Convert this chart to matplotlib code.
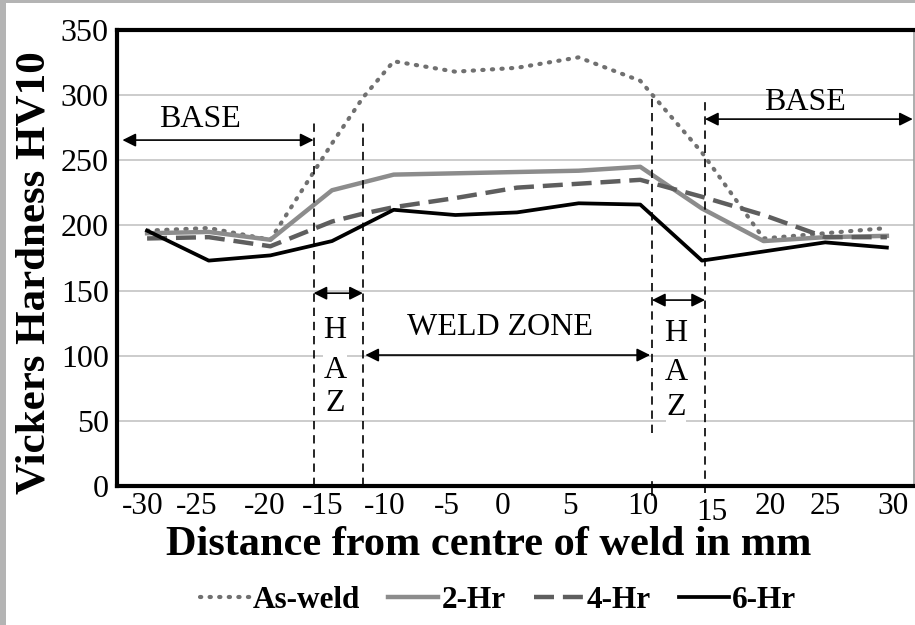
import matplotlib
matplotlib.use("Agg")
import matplotlib.pyplot as plt
from matplotlib.patches import Rectangle

# ---------------- data ----------------
distance = [-30, -25, -20, -15, -12.5, -10, -5, 0, 5, 10, 15, 20, 25, 30]
as_weld = [196, 198, 189, 263, 298, 326, 318, 321, 329, 311, 256, 190, 194, 198]
hr2 = [194, 195, 189, 227, 233, 239, 240, 241, 242, 245, 213, 188, 191, 192]
hr4 = [190, 191, 184, 203, 209, 214, 221, 229, 232, 235, 222, 208, 191, 191]
hr6 = [196, 173, 177, 188, 200, 212, 208, 210, 217, 216, 173, 180, 187, 183]

xtick_labels = ["-30", "-25", "-20", "-15", "-10", "-5", "0", "5", "10", "15", "20", "25", "30"]
ytick_values = [0, 50, 100, 150, 200, 250, 300, 350]

# layout: positions where the x tick labels were placed in the original
xtick_label_pos = [-30.33, -25.95, -20.44, -15.73, -10.71, -5.68, -1.14, 4.30, 10.22, 15.82, 20.52, 24.98, 30.49]

SERIF = ["Liberation Serif", "DejaVu Serif"]
plt.rcParams["font.family"] = SERIF

fig = plt.figure(figsize=(9.15, 6.25), dpi=100)
ax = fig.add_axes([117 / 915, 1 - 486 / 625, (914 - 117) / 915, (486 - 30) / 625])

ax.set_xlim(-32.44, 32.2)
ax.set_ylim(0, 350)

# grid
for v in ytick_values[1:]:
    ax.axhline(v, color="#c8c8c8", lw=1.3, zorder=0)

ax.plot(distance, as_weld, color="#707070", lw=3.0, linestyle=(0, (0.3, 2.0)),
        dash_capstyle="round", label="As-weld", zorder=3)
ax.plot(distance, hr2, color="#8c8c8c", lw=3.2, label="2-Hr", zorder=3)
ax.plot(distance, hr4, color="#5e5e5e", lw=3.2, linestyle=(0, (4.5, 2)), label="4-Hr", zorder=3)
ax.plot(distance, hr6, color="black", lw=2.7, label="6-Hr", zorder=4)

# spines
for s in ["left", "bottom", "top"]:
    ax.spines[s].set_linewidth(3)
    ax.spines[s].set_color("black")
ax.spines["right"].set_linewidth(1.2)
ax.spines["right"].set_color("#a0a0a0")

# y ticks
ax.set_yticks(ytick_values)
ax.set_yticklabels([str(v) for v in ytick_values])
ax.tick_params(axis="y", length=0, pad=6, labelsize=23)
ax.set_xticks([])
xt = ax.get_xaxis_transform()
for lab, pos in zip(xtick_labels, xtick_label_pos):
    yoff = -0.026 if lab == "15" else -0.014
    ax.text(pos, yoff, lab, transform=xt, ha="center", va="top", fontsize=22.5)

fig.text(35 / 915, 1 - 273 / 625, "Vickers Hardness HV10", rotation=90, ha="center", va="center",
         fontsize=31, fontweight="bold")
fig.text(489 / 915, 1 - 545 / 625, "Distance from centre of weld in mm", ha="center", va="center",
         fontsize=30.5, fontweight="bold")

# zone boundaries (dashed verticals)
dash = (0, (5, 3.5))
ax.plot([-16.5, -16.5], [0, 279], color="black", lw=1.2, linestyle=dash, zorder=5, clip_on=False)
ax.plot([-12.5, -12.5], [0, 279], color="black", lw=1.2, linestyle=dash, zorder=5, clip_on=False)
ax.plot([10.95, 10.95], [41, 298.5], color="black", lw=1.2, linestyle=dash, zorder=5, clip_on=False)
ax.plot([10.95, 10.95], [-7, 3], color="black", lw=1.2, zorder=5, clip_on=False)
ax.plot([15.25, 15.25], [-5, 298.5], color="black", lw=1.2, linestyle=dash, zorder=5, clip_on=False)

arrow = dict(arrowstyle="<|-|>", color="black", lw=1.2, mutation_scale=20, shrinkA=0, shrinkB=0)

def darrow(x0, x1, y):
    ax.annotate("", xy=(x0, y), xytext=(x1, y), arrowprops=arrow, annotation_clip=False, zorder=6)

darrow(-32.0, -16.5, 265.5)
darrow(15.25, 32.1, 281.6)
darrow(-16.5, -12.5, 148)
darrow(10.95, 15.25, 142.7)
darrow(-12.3, 10.8, 100.5)

ax.text(-25.7, 281, "BASE", ha="center", va="center", fontsize=23, zorder=6)
ax.text(23.4, 294.7, "BASE", ha="center", va="center", fontsize=23, zorder=6)
ax.text(-1.4, 122, "WELD ZONE", ha="center", va="center", fontsize=23, zorder=6)
for ch, yv in zip("HAZ", [119.7, 89, 63.7]):
    ax.text(-14.75, yv, ch, ha="center", va="center", fontsize=23, zorder=6,
            bbox=dict(facecolor="white", edgecolor="none", pad=0.5))
for ch, yv in zip("HAZ", [117.4, 87.5, 60.6]):
    ax.text(12.9, yv, ch, ha="center", va="center", fontsize=23, zorder=6,
            bbox=dict(facecolor="white", edgecolor="none", pad=0.5))

# legend
handles, labels = ax.get_legend_handles_labels()
leg = fig.legend(handles, labels, loc="center", bbox_to_anchor=(498 / 915, 1 - 600 / 625), ncol=4,
                 frameon=False, handlelength=1.6, handletextpad=0.1, columnspacing=0.9,
                 prop=dict(family=SERIF, weight="bold", size=22.5))

# gray textured border on left and top
fig.patches.append(Rectangle((0, 0), 6 / 915, 1, transform=fig.transFigure, facecolor="#b4b4b4",
                             edgecolor="none", zorder=10))
fig.patches.append(Rectangle((0, 1 - 3 / 625), 1, 3 / 625, transform=fig.transFigure,
                             facecolor="#b4b4b4", edgecolor="none", zorder=10))

fig.savefig("out.png", dpi=100)
